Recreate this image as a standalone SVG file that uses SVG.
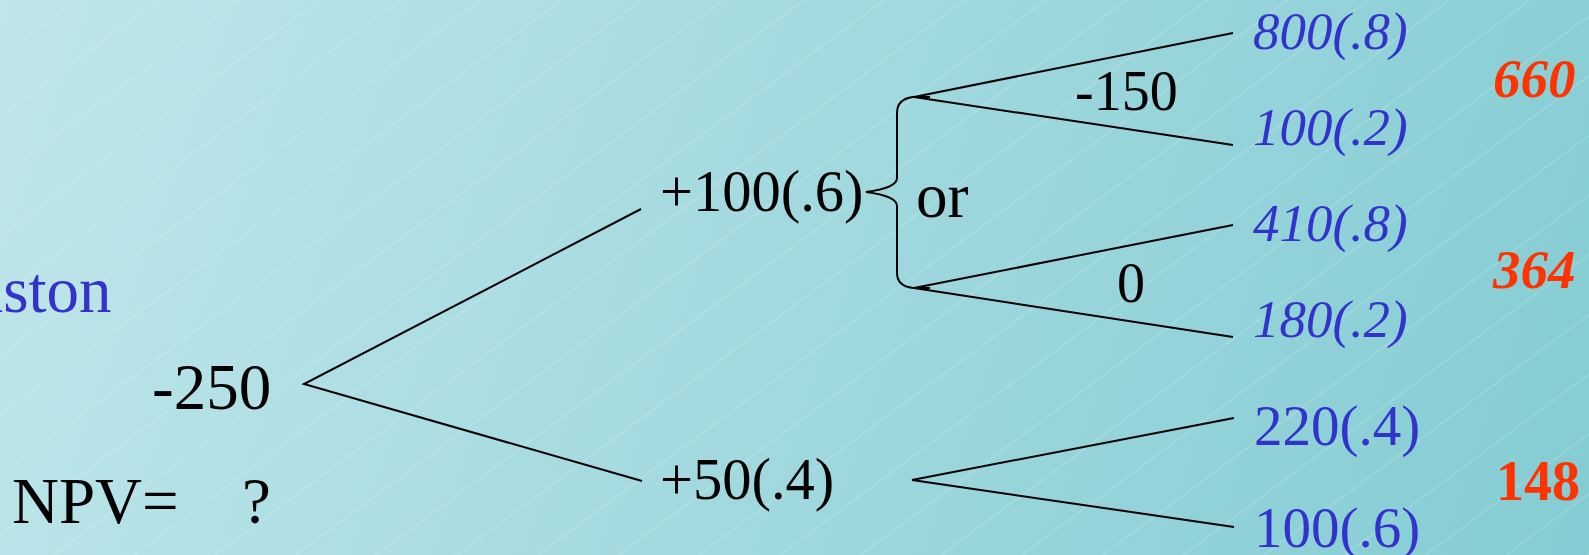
<svg xmlns="http://www.w3.org/2000/svg" width="1589" height="555" viewBox="0 0 1589 555">
<defs>
<linearGradient id="bg" x1="0" y1="0" x2="1589" y2="555" gradientUnits="userSpaceOnUse">
<stop offset="0" stop-color="#bfe6ea"/>
<stop offset="1" stop-color="#84ccd3"/>
</linearGradient>
<pattern id="hatch" width="20" height="48" patternUnits="userSpaceOnUse" patternTransform="rotate(-36.5)">
<line x1="0" y1="46" x2="20" y2="46" stroke="#ffffff" stroke-opacity="0.25" stroke-width="1"/>
</pattern>
</defs>
<style>
text{font-family:"Liberation Serif","Times New Roman",serif;}
.blk{fill:#000;}
.big{font-size:65px;}
.mid{font-size:58.5px;}
.sm{font-size:56px;}
.blue{fill:#3333cc;}
.it{font-style:italic;font-size:53px;}
.up{font-size:57px;}
.red{fill:#ff3300;font-weight:bold;}
.redit{font-style:italic;font-size:55px;}
.line{stroke:#000;stroke-width:2;fill:none;}
</style>
<rect width="1589" height="555" fill="url(#bg)"/>
<rect width="1589" height="555" fill="url(#hatch)"/>
<g id="connectors">
<polyline class="line" points="641,209 304,384 642,481"/>
<path class="line" d="M930,97 L913,97 Q897,99 897,113 L897,178 Q897,188 866,192 Q897,196 897,206 L897,273 Q897,286 913,288 L930,288"/>
<polyline class="line" points="1233,33 914,97 1233,145"/>
<polyline class="line" points="1233,225 914,288 1233,337"/>
<polyline class="line" points="1234,418 912,480 1234,527"/>
</g>
<g id="piston"><text class="blue big" x="-51" y="312">Piston</text></g>
<g id="root"><text class="blk big" x="152" y="409">-250</text></g>
<g id="npv"><text class="blk big" x="12" y="523">NPV=<tspan x="242">?</tspan></text></g>
<g id="n100"><text class="blk mid" x="660" y="211">+100(.6)</text></g>
<g id="n50"><text class="blk mid" x="660" y="499">+50(.4)</text></g>
<g id="or"><text class="blk" style="font-size:63px" x="916" y="217">or</text></g>
<g id="m150"><text class="blk sm" x="1075" y="110">-150</text></g>
<g id="z0"><text class="blk sm" x="1117" y="302">0</text></g>
<g id="l800"><text class="blue it" x="1253" y="49">800(.8)</text></g>
<g id="l100a"><text class="blue it" x="1253" y="145">100(.2)</text></g>
<g id="l410"><text class="blue it" x="1253" y="241">410(.8)</text></g>
<g id="l180"><text class="blue it" x="1253" y="337">180(.2)</text></g>
<g id="l220"><text class="blue up" x="1254" y="445">220(.4)</text></g>
<g id="l100b"><text class="blue up" x="1254" y="547">100(.6)</text></g>
<g id="v660"><text class="red redit" x="1493" y="97">660</text></g>
<g id="v364"><text class="red redit" x="1493" y="288">364</text></g>
<g id="v148"><text class="red" style="font-size:56px" x="1496" y="500">148</text></g>
</svg>
